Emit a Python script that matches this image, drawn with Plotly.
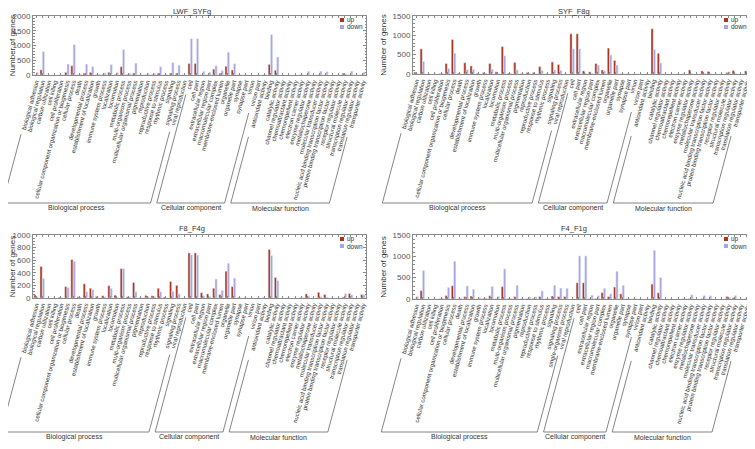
import math
import plotly.graph_objects as go

# GO level-2 categories
bp = ["biological adhesion", "biological regulation", "carbon utilization", "cell killing",
      "cell proliferation", "cellular component organization or biogenesis", "cellular process",
      "death", "developmental process", "establishment of localization", "growth",
      "immune system process", "localization", "locomotion", "metabolic process",
      "multi-organism process", "multicellular organismal process", "pigmentation",
      "reproduction", "reproductive process", "response to stimulus", "rhythmic process",
      "signaling", "signaling process", "viral reproduction"]
cc = ["cell", "cell part", "extracellular region", "extracellular region part",
      "macromolecular complex", "membrane-enclosed lumen", "organelle", "organelle part",
      "synapse", "synapse part", "virion", "virion part"]
mf = ["antioxidant activity", "binding", "catalytic activity", "channel regulator activity",
      "chemoattractant activity", "chemorepellent activity", "electron carrier activity",
      "enzyme regulator activity", "metallochaperone activity", "molecular transducer activity",
      "nucleic acid binding transcription factor activity",
      "protein binding transcription factor activity", "receptor regulator activity",
      "structural molecule activity", "transcription regulator activity",
      "translation regulator activity", "transporter activity"]

# the F4_F1g comparison has a slightly different term set
bp_f4 = bp[:24] + ["single-organism process"] + bp[24:]
cc_f4 = [c for c in cc if c != "virion"]

panel_names = ["LWF_SYFg", "SYF_F8g", "F8_F4g", "F4_F1g"]
panel_groups = [(bp, cc, mf), (bp, cc, mf), (bp, cc, mf), (bp_f4, cc_f4, mf)]

lwf_syf_up = [10, 175, 0, 0, 5, 90, 315, 10, 60, 90, 10, 15, 90, 20, 280, 20, 60, 5, 15, 20, 60, 5, 60, 60, 5,
              390, 390, 10, 10, 200, 60, 295, 170, 5, 5, 0, 0,
              5, 360, 160, 0, 0, 0, 5, 5, 0, 5, 5, 0, 0, 60, 10, 0, 10]
lwf_syf_down = [90, 790, 0, 0, 10, 370, 1030, 30, 370, 280, 30, 70, 350, 80, 860, 60, 400, 10, 60, 60, 280, 10, 420, 330, 5,
                1230, 1230, 125, 95, 315, 150, 770, 380, 10, 10, 0, 0,
                10, 1370, 610, 0, 0, 0, 10, 125, 0, 130, 110, 0, 0, 40, 130, 0, 100]

syf_f8_up = [50, 650, 0, 0, 10, 270, 890, 20, 290, 210, 20, 40, 270, 55, 710, 20, 300, 10, 40, 40, 190, 5, 310, 245, 0,
             1040, 1040, 80, 55, 270, 105, 670, 350, 5, 5, 0, 0,
             5, 1170, 535, 0, 0, 0, 5, 105, 0, 80, 65, 0, 0, 40, 90, 0, 80]
syf_f8_down = [20, 325, 0, 0, 25, 140, 540, 10, 115, 120, 5, 20, 125, 10, 470, 20, 105, 5, 20, 15, 90, 5, 105, 90, 0,
               650, 650, 20, 20, 230, 80, 490, 230, 5, 5, 0, 0,
               0, 630, 285, 0, 0, 0, 0, 15, 0, 15, 10, 0, 0, 55, 20, 0, 30]

f8_f4_up = [50, 500, 0, 0, 15, 180, 610, 20, 225, 155, 25, 35, 195, 45, 465, 20, 245, 5, 40, 35, 155, 15, 260, 200, 0,
            715, 715, 85, 65, 155, 55, 425, 180, 10, 5, 0, 0,
            5, 770, 325, 0, 0, 0, 5, 65, 0, 90, 55, 0, 0, 15, 70, 0, 55]
f8_f4_down = [20, 310, 0, 0, 5, 165, 580, 15, 100, 135, 5, 20, 155, 10, 465, 20, 100, 5, 20, 25, 100, 5, 105, 65, 0,
              685, 680, 35, 25, 300, 120, 550, 315, 5, 5, 0, 0,
              0, 675, 275, 0, 0, 0, 5, 30, 0, 20, 15, 0, 0, 70, 50, 0, 50]

f4_f1_up = [10, 195, 0, 0, 10, 80, 310, 5, 55, 70, 5, 15, 75, 10, 290, 15, 55, 5, 10, 15, 55, 5, 70, 55, 55, 0,
            380, 380, 10, 15, 150, 55, 280, 120, 5, 5, 0,
            0, 350, 145, 0, 0, 0, 5, 10, 0, 10, 5, 0, 0, 60, 30, 0, 10]
f4_f1_down = [60, 665, 0, 0, 25, 270, 885, 20, 305, 230, 30, 30, 295, 60, 705, 20, 320, 10, 50, 50, 190, 10, 320, 255, 250, 0,
              1010, 1010, 90, 75, 250, 120, 650, 320, 10, 10, 0,
              5, 1140, 500, 0, 0, 0, 10, 100, 0, 80, 75, 0, 0, 40, 80, 0, 75]

series = [(lwf_syf_up, lwf_syf_down), (syf_f8_up, syf_f8_down),
          (f8_f4_up, f8_f4_down), (f4_f1_up, f4_f1_down)]
y_max = [2000, 1500, 1000, 1500]
y_step = [500, 500, 200, 500]

# page body has an 8 px margin, so the figure is drawn 8 px smaller and offset
OFF = 8
W, H = 755 - OFF, 449 - OFF
UP_COLOR = "#AD3419"
DOWN_COLOR = "#A8A5E4"
FRAME = "#8a8a8a"
FONT = "Liberation Sans, Arial, sans-serif"

# plot boxes in window pixels: x0, x1, y_top, y_bottom
boxes = [(33, 366, 16, 75), (413, 750, 16, 74), (33, 366, 235, 298), (413, 750, 235, 299)]
title_y = [11.5, 11.5, 229, 229]
bracket_y = [203, 203, 432, 432]


def px(x):
    return (x - OFF) / W


def py(y):
    return 1 - (y - OFF) / H


fig = go.Figure()
ang = math.radians(75)
char_w = 2.75

for k, (name, (up, down)) in enumerate(zip(panel_names, series)):
    groups = panel_groups[k]
    cats = groups[0] + groups[1] + groups[2]
    n = len(cats)
    sfx = "" if k == 0 else str(k + 1)
    xa, ya = "x" + sfx, "y" + sfx
    fig.add_trace(go.Bar(x=cats, y=up, name="up", marker_color=UP_COLOR,
                         xaxis=xa, yaxis=ya, showlegend=False))
    fig.add_trace(go.Bar(x=cats, y=down, name="down", marker_color=DOWN_COLOR,
                         xaxis=xa, yaxis=ya, showlegend=False))

    x0, x1, yt, yb = boxes[k]
    fig.layout["xaxis" + sfx] = dict(
        domain=[px(x0), px(x1)], anchor=ya, type="category", range=[-0.5, n - 0.5],
        tickmode="array", tickvals=cats, ticktext=cats,
        tickangle=-75, tickfont=dict(size=6, color="#333", family=FONT),
        ticks="inside", ticklen=2, tickcolor=FRAME, showline=True, linecolor=FRAME,
        linewidth=1, mirror="ticks", showgrid=False, automargin=False, fixedrange=True)
    fig.layout["yaxis" + sfx] = dict(
        domain=[py(yb), py(yt)], anchor=xa, range=[0, y_max[k]], dtick=y_step[k],
        tickfont=dict(size=8, color="#555", family=FONT), ticks="inside", ticklen=3,
        tickcolor=FRAME, showline=True, linecolor=FRAME, linewidth=1, mirror="ticks",
        showgrid=False, zeroline=False, automargin=False,
        minor=dict(ticks="inside", ticklen=1.5, tickcolor=FRAME, nticks=5),
        title=dict(text="Number of genes", font=dict(size=8, color="#333", family=FONT), standoff=4))

    # compact legend: swatch + label
    for j, (lab, col) in enumerate((("up", UP_COLOR), ("down", DOWN_COLOR))):
        ly = yt + 4 + j * 7
        lx = x1 - 26
        fig.add_shape(type="rect", xref="paper", yref="paper", x0=px(lx), x1=px(lx + 4),
                      y0=py(ly + 2), y1=py(ly - 2), fillcolor=col, line=dict(width=0))
        fig.add_annotation(text=lab, x=px(lx + 5), y=py(ly), xref="paper", yref="paper",
                           xanchor="left", yanchor="middle", showarrow=False,
                           font=dict(size=6.5, color="#333", family=FONT))

    fig.add_annotation(text=name, x=px((x0 + x1) / 2 - 8), y=py(title_y[k]), xref="paper", yref="paper",
                       xanchor="center", yanchor="middle", showarrow=False,
                       font=dict(size=7.5, color="#333", family=FONT))

    # group brackets under the rotated labels
    cw = (x1 - x0) / n
    yb_line = bracket_y[k]
    start = 0
    for grp, title in zip(groups, ("Biological process", "Cellular component", "Molecular function")):
        first, last = start, start + len(grp) - 1
        ends = []
        for idx in (first, last):
            L = len(cats[idx]) * char_w + 6
            sx = x0 + (idx + 0.5) * cw - L * math.cos(ang)
            sy = yb + 3 + L * math.sin(ang)
            bx = sx - (yb_line - sy) / math.tan(ang)
            fig.add_shape(type="line", xref="paper", yref="paper", x0=px(sx), y0=py(sy),
                          x1=px(bx), y1=py(yb_line), line=dict(color="#666", width=0.8))
            ends.append(bx)
        fig.add_shape(type="line", xref="paper", yref="paper", x0=px(ends[0]), y0=py(yb_line),
                      x1=px(ends[1]), y1=py(yb_line), line=dict(color="#666", width=0.8))
        fig.add_annotation(text=title, x=px((ends[0] + ends[1]) / 2), y=py(yb_line + 5),
                           xref="paper", yref="paper", xanchor="center", yanchor="middle",
                           showarrow=False, font=dict(size=7, color="#333", family=FONT))
        start += len(grp)

fig.update_layout(
    width=W, height=H, margin=dict(l=0, r=0, t=0, b=0),
    paper_bgcolor="white", plot_bgcolor="white",
    barmode="group", bargap=0.25, bargroupgap=0.05,
    showlegend=False,
    font=dict(family=FONT, color="#333"),
)

fig.write_html("out.html")
